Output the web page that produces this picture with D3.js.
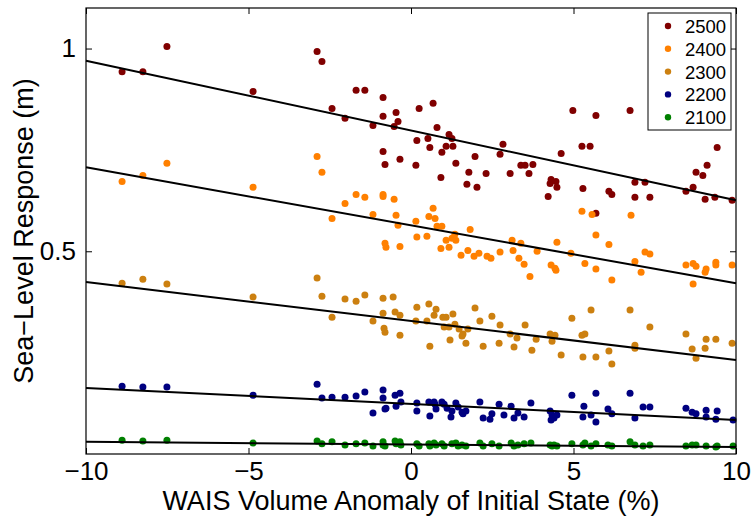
<!DOCTYPE html>
<html><head><meta charset="utf-8">
<script src="https://cdn.jsdelivr.net/npm/d3@7"></script>
<style>body{margin:0;background:#fff}text{font-family:"Liberation Sans",Arial,sans-serif}</style>
</head><body><div id="wrapper"></div>
<script>
const years = ['2500', '2400', '2300', '2200', '2100']
const colors = ['#800000', '#ff8000', '#cc8010', '#000080', '#008000']
// fitted line values at x = -10 and x = 10
const fitStart = [0.970, 0.707, 0.424, 0.163, 0.030]
const fitEnd = [0.626, 0.421, 0.232, 0.084, 0.017]
const xTicks = [-10, -5, 0, 5, 10]
const yTicks = [0.5, 1]

const s2500 = [[-8.89,0.943],[-8.25,0.943],[-7.51,1.005],[-4.86,0.894],[-2.89,0.993],[-2.74,0.968],[-2.43,0.852],[-2.03,0.828],[-1.69,0.897],[-1.42,0.897],[-1.17,0.810],
[-0.86,0.879],[-0.86,0.833],[-0.86,0.746],[-0.80,0.714],[-0.52,0.808],[-0.46,0.842],[-0.40,0.820],[-0.34,0.727],[0.18,0.773],[0.25,0.852],[0.15,0.712],[0.52,0.778],[0.58,0.756],[0.68,0.865],[0.80,0.805],[0.92,0.682],[0.95,0.744],[1.08,0.759],[1.17,0.788],[1.26,0.778],[1.29,0.759],[1.38,0.717],[1.72,0.665],[1.78,0.695],[1.97,0.734],[2.03,0.658],[2.31,0.692],[2.74,0.739],[2.83,0.764],[3.05,0.692],[3.38,0.712],[3.51,0.712],[3.63,0.692],[3.75,0.714],[4.22,0.635],[4.28,0.667],[4.31,0.677],[4.46,0.672],[4.49,0.658],[4.62,0.741],[4.98,0.847],[5.26,0.759],[5.29,0.655],[5.51,0.759],[5.69,0.594],[5.69,0.835],[6.09,0.648],[6.18,0.640],[6.74,0.847],[6.89,0.670],[6.89,0.633],[7.20,0.670],[7.35,0.633],[8.46,0.648],[8.68,0.658],[8.77,0.695],[8.98,0.687],[9.05,0.628],[9.11,0.712],[9.35,0.633],[9.42,0.756],[9.88,0.626]]
const s2400 = [[-8.89,0.672],[-8.25,0.687],[-7.51,0.717],[-4.86,0.658],[-2.89,0.734],[-2.74,0.695],[-2.43,0.581],[-2.03,0.618],[-1.69,0.640],[-1.42,0.633],[-1.17,0.591],
[-0.86,0.640],[-0.86,0.635],[-0.80,0.520],[-0.77,0.510],[-0.52,0.628],[-0.46,0.589],[-0.40,0.564],[-0.34,0.512],[0.15,0.574],[0.18,0.535],[0.49,0.537],[0.55,0.586],[0.68,0.606],[0.74,0.581],[0.80,0.562],[0.95,0.562],[0.92,0.507],[1.08,0.527],[1.17,0.510],[1.26,0.532],[1.35,0.542],[1.38,0.527],[1.54,0.490],[1.75,0.502],[1.82,0.554],[1.94,0.488],[2.09,0.495],[2.34,0.488],[2.46,0.483],[2.74,0.498],[3.11,0.527],[3.14,0.502],[3.32,0.483],[3.38,0.520],[3.48,0.468],[3.66,0.438],[3.88,0.500],[4.31,0.466],[4.43,0.458],[4.46,0.453],[4.49,0.522],[4.92,0.495],[5.26,0.599],[5.35,0.470],[5.57,0.591],[5.69,0.456],[5.69,0.540],[6.09,0.517],[6.18,0.429],[6.77,0.589],[6.89,0.475],[7.08,0.448],[7.20,0.498],[7.35,0.493],[8.46,0.466],[8.68,0.470],[8.68,0.419],[8.77,0.463],[9.05,0.448],[9.08,0.456],[9.38,0.473],[9.38,0.466],[9.88,0.466]]
const s2300 = [[-8.89,0.421],[-8.25,0.431],[-7.51,0.419],[-4.86,0.387],[-2.89,0.434],[-2.74,0.389],[-2.43,0.337],[-2.03,0.382],[-1.69,0.377],[-1.42,0.392],[-1.17,0.328],
[-0.86,0.384],[-0.86,0.347],[-0.83,0.310],[-0.80,0.300],[-0.55,0.387],[-0.49,0.350],[-0.34,0.342],[-0.34,0.293],[0.15,0.328],[0.18,0.362],[0.55,0.370],[0.58,0.266],[0.49,0.328],[0.71,0.342],[0.77,0.357],[0.98,0.337],[1.02,0.313],[1.08,0.337],[1.17,0.313],[1.20,0.281],[1.29,0.345],[1.35,0.320],[1.57,0.291],[1.60,0.296],[1.48,0.308],[1.69,0.273],[1.75,0.308],[1.97,0.360],[2.12,0.328],[2.22,0.266],[2.49,0.340],[2.71,0.273],[2.74,0.318],[3.05,0.296],[3.17,0.264],[3.26,0.286],[3.51,0.318],[3.72,0.256],[3.85,0.283],[4.28,0.296],[4.43,0.293],[4.34,0.278],[4.62,0.244],[4.95,0.335],[5.26,0.293],[5.35,0.296],[5.54,0.355],[5.29,0.239],[5.69,0.239],[6.09,0.254],[6.18,0.222],[6.74,0.355],[6.89,0.261],[6.89,0.268],[7.35,0.313],[8.46,0.296],[8.65,0.259],[8.77,0.236],[9.05,0.261],[9.08,0.283],[9.38,0.283],[9.88,0.273]]
const s2200 = [[-8.89,0.167],[-8.25,0.165],[-7.51,0.165],[-4.86,0.145],[-2.89,0.172],[-2.74,0.138],[-2.43,0.140],[-2.03,0.140],[-1.69,0.143],[-1.42,0.153],[-1.17,0.101],
[-0.86,0.158],[-0.86,0.138],[-0.80,0.111],[-0.77,0.113],[-0.49,0.145],[-0.46,0.118],[-0.34,0.150],[-0.31,0.128],[0.18,0.126],[0.18,0.106],[0.55,0.128],[0.58,0.094],[0.71,0.128],[0.74,0.123],[0.77,0.111],[0.95,0.128],[1.02,0.123],[1.11,0.113],[1.23,0.091],[1.26,0.106],[1.38,0.126],[1.45,0.116],[1.57,0.103],[1.60,0.099],[1.69,0.106],[2.12,0.128],[2.22,0.089],[2.43,0.086],[2.49,0.099],[2.71,0.123],[2.86,0.096],[3.08,0.118],[3.17,0.089],[3.29,0.101],[3.48,0.091],[3.69,0.126],[4.28,0.106],[4.34,0.096],[4.31,0.084],[4.40,0.089],[4.49,0.096],[4.95,0.145],[5.29,0.091],[5.32,0.118],[5.54,0.096],[5.69,0.079],[5.69,0.150],[6.06,0.111],[6.18,0.099],[6.74,0.150],[6.89,0.089],[7.14,0.116],[7.35,0.116],[8.46,0.113],[8.65,0.103],[8.77,0.099],[9.08,0.091],[9.08,0.108],[9.38,0.086],[9.42,0.106],[9.91,0.084]]
const s2100 = [[-8.89,0.034],[-8.25,0.032],[-7.51,0.034],[-4.86,0.027],[-2.89,0.032],[-2.74,0.025],[-2.43,0.030],[-2.03,0.022],[-1.69,0.025],[-1.42,0.027],[-1.17,0.020],
[-0.86,0.030],[-0.86,0.022],[-0.80,0.020],[-0.49,0.032],[-0.46,0.025],[-0.34,0.030],[-0.31,0.022],[0.18,0.025],[0.25,0.020],[0.55,0.025],[0.58,0.020],[0.71,0.027],[0.77,0.022],[0.95,0.025],[1.02,0.020],[1.26,0.025],[1.38,0.027],[1.45,0.020],[1.57,0.022],[1.69,0.020],[2.12,0.027],[2.22,0.020],[2.49,0.025],[2.71,0.020],[3.08,0.027],[3.17,0.020],[3.29,0.022],[3.48,0.025],[3.69,0.027],[4.28,0.022],[4.34,0.020],[4.40,0.022],[4.49,0.020],[4.95,0.025],[5.29,0.022],[5.35,0.027],[5.54,0.020],[5.69,0.025],[6.06,0.022],[6.18,0.020],[6.74,0.030],[6.89,0.022],[7.14,0.020],[7.35,0.022],[8.46,0.020],[8.65,0.022],[8.77,0.022],[9.08,0.020],[9.38,0.017],[9.42,0.020],[9.91,0.020]]
const series = [s2500, s2400, s2300, s2200, s2100]

const width = 752
let dimensions = {
	width: width,
	height: 516,
	margin: { top: 8, right: 16, bottom: 62, left: 86 },
}
dimensions.boundedWidth = dimensions.width - dimensions.margin.left - dimensions.margin.right
dimensions.boundedHeight = dimensions.height - dimensions.margin.top - dimensions.margin.bottom

const wrapper = d3.select('#wrapper').append('svg')
	.attr('width', dimensions.width)
	.attr('height', dimensions.height)

const bounds = wrapper.append('g')
	.attr('transform', `translate(${dimensions.margin.left},${dimensions.margin.top})`)

const xScale = d3.scaleLinear().domain([-10, 10]).range([0, dimensions.boundedWidth])
const yScale = d3.scaleLinear().domain([0, 1.1]).range([dimensions.boundedHeight, 0])

// points
series.forEach((pts, i) => {
	bounds.append('g').selectAll('circle').data(pts).join('circle')
		.attr('cx', d => xScale(d[0]))
		.attr('cy', d => yScale(d[1]))
		.attr('r', 3.5)
		.attr('fill', colors[i])
})

// fit lines
const lineGenerator = d3.line().x(d => xScale(d[0])).y(d => yScale(d[1]))
years.forEach((y, i) => {
	bounds.append('path')
		.attr('d', lineGenerator([[-10, fitStart[i]], [10, fitEnd[i]]]))
		.attr('fill', 'none').attr('stroke', 'black').attr('stroke-width', 2)
})

// axes, ticks pointing inwards, mirrored
const tickStyle = g => {
	g.select('.domain').remove()
	g.selectAll('line').attr('stroke', '#000')
	g.selectAll('text').attr('font-size', 26).attr('fill', '#000')
}
bounds.append('g').attr('transform', `translate(0,${dimensions.boundedHeight})`)
	.call(d3.axisBottom(xScale).tickValues(xTicks).tickSizeInner(-6).tickPadding(8).tickFormat(d => d < 0 ? '\u2212' + Math.abs(d) : d))
	.call(tickStyle)
bounds.append('g')
	.call(d3.axisTop(xScale).tickValues(xTicks).tickSizeInner(-6).tickFormat(''))
	.call(tickStyle)
bounds.append('g')
	.call(d3.axisLeft(yScale).tickValues(yTicks).tickSizeInner(-6).tickPadding(10).tickFormat(d3.format('')))
	.call(tickStyle)
bounds.append('g').attr('transform', `translate(${dimensions.boundedWidth},0)`)
	.call(d3.axisRight(yScale).tickValues(yTicks).tickSizeInner(-6).tickFormat(''))
	.call(tickStyle)

bounds.append('rect')
	.attr('width', dimensions.boundedWidth).attr('height', dimensions.boundedHeight)
	.attr('fill', 'none').attr('stroke', '#000').attr('stroke-width', 1.2)

// axis titles
wrapper.append('text')
	.attr('x', dimensions.margin.left + dimensions.boundedWidth / 2)
	.attr('y', 510)
	.attr('text-anchor', 'middle').attr('font-size', 27)
	.text('WAIS Volume Anomaly of Initial State (%)')
wrapper.append('text')
	.attr('transform', `translate(33,${dimensions.margin.top + dimensions.boundedHeight / 2}) rotate(-90)`)
	.attr('text-anchor', 'middle').attr('font-size', 27)
	.text('Sea\u2212Level Response (m)')

// legend
const legend = wrapper.append('g').attr('transform', 'translate(648,13)')
legend.append('rect').attr('width', 83).attr('height', 117)
	.attr('fill', '#fff').attr('stroke', '#000').attr('stroke-width', 1)
years.forEach((y, i) => {
	const row = legend.append('g').attr('transform', `translate(0,${13 + i * 22.8})`)
	row.append('circle').attr('cx', 20).attr('cy', 0).attr('r', 3.2).attr('fill', colors[i])
	row.append('text').attr('x', 37).attr('y', 7).attr('font-size', 18.5).text(y)
})
</script>
</body></html>
